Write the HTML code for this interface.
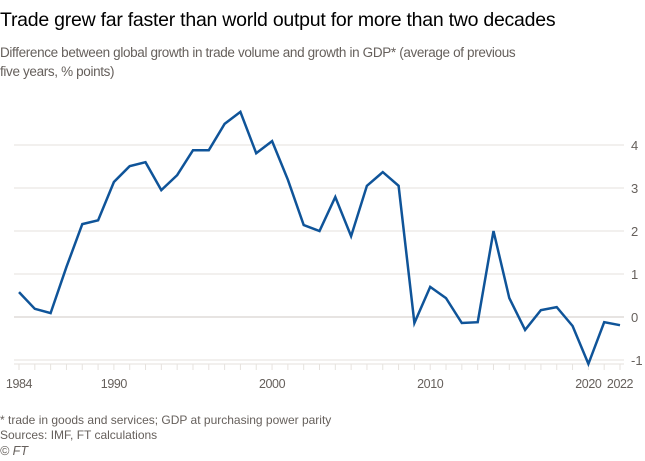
<!DOCTYPE html>
<html><head><meta charset="utf-8"><style>
body{margin:0;background:#fff;font-family:"Liberation Sans",sans-serif;color:#33302e;}
#wrap{position:relative;width:645px;height:461px;overflow:hidden;}
.t{position:absolute;left:0;margin:0;white-space:nowrap;}
</style></head><body>
<div id="wrap">
<div class="t" style="top:9px;font-size:19.5px;color:#000;letter-spacing:-0.25px;">Trade grew far faster than world output for more than two decades</div>
<div class="t" style="top:43px;font-size:13.5px;line-height:19px;color:#66605c;letter-spacing:-0.35px;">Difference between global growth in trade volume and growth in GDP* (average of previous<br>five years, % points)</div>
<svg id="chart" width="645" height="461" style="position:absolute;left:0;top:0"></svg>
<div class="t" style="top:413px;font-size:12px;color:#66605c;line-height:15px;">* trade in goods and services; GDP at purchasing power parity<br>Sources: IMF, FT calculations</div>
<div class="t" style="top:444px;font-size:12.5px;color:#66605c;font-style:italic;">© FT</div>
</div>
<script>
const years=[];for(let y=1984;y<=2022;y++)years.push(y);
const values=[0.58,0.19,0.09,1.16,2.16,2.25,3.14,3.51,3.6,2.95,3.3,3.88,3.88,4.49,4.77,3.81,4.09,3.19,2.14,2.0,2.79,1.88,3.05,3.37,3.05,-0.14,0.7,0.44,-0.14,-0.12,2.0,0.44,-0.3,0.16,0.23,-0.21,-1.09,-0.12,-0.19];
const yTicks=[-1,0,1,2,3,4];
const xTickLabels=[1984,1990,2000,2010,2020,2022];
const NS="http://www.w3.org/2000/svg";
const svg=document.getElementById('chart');
const x=v=>19+(v-1984)*(620-19)/38;
const y=v=>317-v*43;
function mk(t,a){const e=document.createElementNS(NS,t);for(const k in a)e.setAttribute(k,a[k]);svg.appendChild(e);return e;}
yTicks.forEach(t=>{
 const l=mk('line',{x1:14,x2:624,y1:y(t),y2:y(t),stroke:t===0?'#cfcac4':'#e6e2de','stroke-width':1});
 
 
 const tx=mk('text',{x:631,y:y(t)+5,'font-size':13,fill:'#66605c','font-family':'Liberation Sans, sans-serif'});
 tx.textContent=t;
 
 
});
const ax=mk('line',{x1:14,x2:624,y1:364,y2:364,stroke:'#e6e2de'});


years.forEach(yr=>{
 const tk=mk('line',{x1:x(yr),x2:x(yr),y1:364,y2:370,stroke:'#e6e2de'});
 
 
});
xTickLabels.forEach(yr=>{
 const tx=mk('text',{x:x(yr),y:388,'font-size':12.5,fill:'#66605c','text-anchor':'middle','letter-spacing':'-0.4','font-family':'Liberation Sans, sans-serif'});
 tx.textContent=yr;
 
 
});
const p=mk('path',{d:values.map((v,i)=>(i?'L':'M')+x(years[i]).toFixed(1)+','+y(v).toFixed(1)).join(''),fill:'none',stroke:'#0f5499','stroke-width':2.5,'stroke-linejoin':'miter'});


</script>
</body></html>
